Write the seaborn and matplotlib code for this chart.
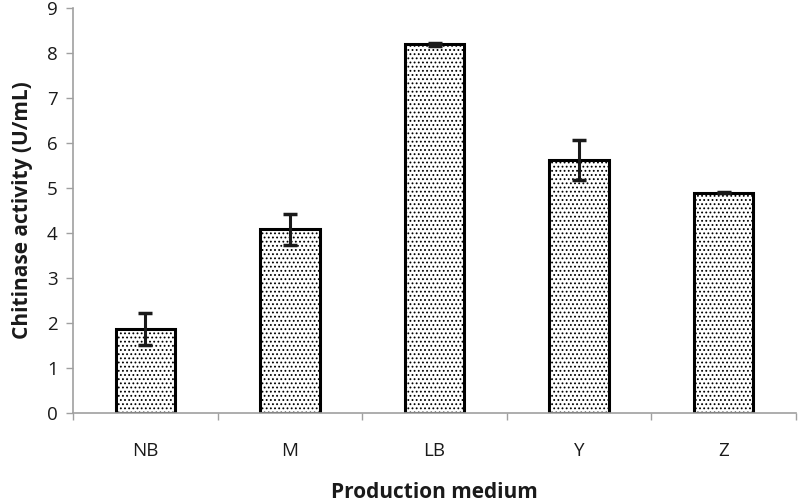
import numpy as np
import pandas as pd
import seaborn as sns
import matplotlib
matplotlib.use("Agg")
import matplotlib.pyplot as plt

media = ["NB", "M", "LB", "Y", "Z"]
activity = [1.87, 4.08, 8.19, 5.62, 4.90]
activity_err = [0.36, 0.34, 0.03, 0.45, 0.01]

df = pd.DataFrame({"medium": media, "activity": activity})

sns.set_style("white")
plt.rcParams["font.family"] = ["Open Sans", "DejaVu Sans"]
plt.rcParams["hatch.linewidth"] = 0.8

fig = plt.figure(figsize=(7.98, 5.03), dpi=100)
ax = fig.add_axes([0.0915, 0.179, 0.906, 0.805])

sns.barplot(data=df, x="medium", y="activity", color="white", edgecolor="black",
            linewidth=2.2, width=0.41, errorbar=None, ax=ax, zorder=2)
for p in ax.patches:
    p.set_hatch("....")

# error bars
ax.errorbar(x=np.arange(len(media)), y=activity, yerr=activity_err, fmt="none",
            ecolor="#1a1a1a", elinewidth=2.2, capsize=5, capthick=2.5, zorder=3)

ax.set_xlim(-0.5, len(media) - 0.5)
ax.set_ylim(0, 9)
ax.set_yticks(range(0, 10))

# category labels in the middle, small ticks on the boundaries
ax.set_xticks(np.arange(len(media)))
ax.set_xticklabels(media)
ax.set_xticks(np.arange(len(media) + 1) - 0.5, minor=True)
ax.tick_params(axis="x", which="major", length=0, pad=21, labelsize=13.5, colors="#1a1a1a")
ax.tick_params(axis="x", which="minor", length=5, width=1, color="#a0a0a0", direction="out", bottom=True)
ax.tick_params(axis="y", length=5, width=1, color="#a0a0a0", direction="out", left=True,
               labelsize=13.5, labelcolor="#1a1a1a", pad=6)

for side in ["top", "right"]:
    ax.spines[side].set_visible(False)
for side in ["left", "bottom"]:
    ax.spines[side].set_color("#a0a0a0")
    ax.spines[side].set_linewidth(1.2)

ax.set_xlabel("Production medium", fontsize=15, fontweight="bold", color="#1a1a1a", labelpad=16)
ax.set_ylabel("Chitinase activity (U/mL)", fontsize=15, fontweight="bold", color="#1a1a1a", labelpad=10)

plt.savefig("out.png", dpi=100)
